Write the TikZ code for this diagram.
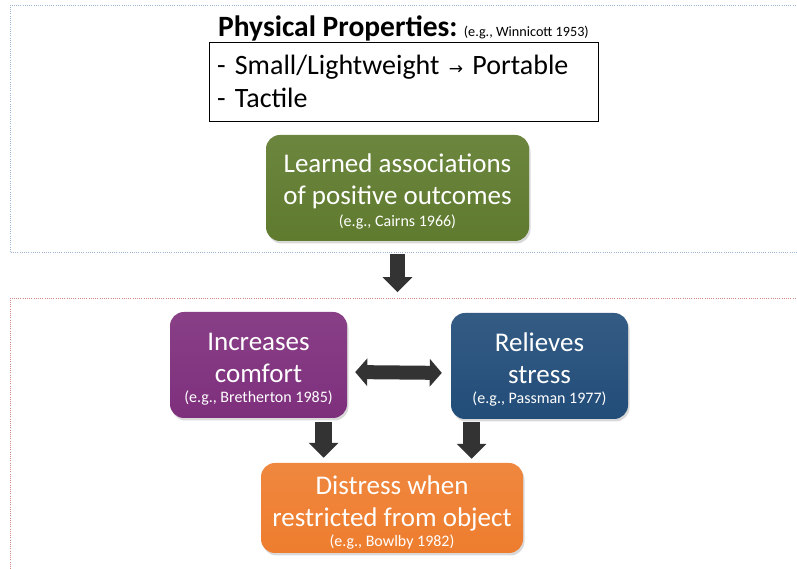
\documentclass[tikz,border=0pt]{standalone}
\usepackage{fontspec}
\setmainfont{Carlito}
\newfontfamily\symfont{DejaVu Sans}
\usetikzlibrary{arrows.meta,positioning,shadows}
\definecolor{ideagreen}{HTML}{5F7B2E}
\definecolor{ideapurple}{HTML}{7E2F7C}
\definecolor{ideablue}{HTML}{224D79}
\definecolor{ideaorange}{HTML}{EE7D2E}
\definecolor{arrowgray}{HTML}{333333}
\definecolor{panelblue}{HTML}{9FB6D6}
\definecolor{panelred}{HTML}{D58A8A}
\newcommand{\eg}[1]{{\fontsize{16}{18}\selectfont #1}}
% pushes the first line of a box down
\newcommand{\toppad}[1]{\rule{0pt}{#1}}

\begin{document}
\begin{tikzpicture}[
  x=1pt, y=1pt,
  idea/.style={rectangle, rounded corners=14pt, minimum height=106pt, inner ysep=2pt, align=center,
    text=white, font=\fontsize{27}{32}\selectfont,
    top color=#1!92!white, bottom color=#1,
    drop shadow={opacity=0.3, shadow xshift=1.5pt, shadow yshift=-2.5pt}},
  bigarrow/.style={draw=arrowgray, line width=#1, -{Triangle[width=29pt, length=15pt]}},
  bigarrow/.default=17pt,
  panel/.style={line width=0.7pt, dash pattern=on 1pt off 1.2pt}
]
  \useasboundingbox (0,0) rectangle (797,569);
  \clip (0,0) rectangle (797,569);

  % dotted panels
  \draw[panel, draw=panelblue] (10,317) rectangle (810,564);
  \draw[panel, draw=panelred] (10,-20) rectangle (810,271);

  % physical properties
  \node[anchor=base west, inner sep=0, font=\fontsize{29.5}{32}\selectfont\bfseries] (title) at (218,532) {Physical Properties:};
  \draw[line width=1.2pt] ([yshift=-0.3pt]title.south west) -- ([yshift=-0.3pt]title.south east);
  \node[anchor=base west, inner sep=0, font=\fontsize{14.2}{16}\selectfont] (titlecite) at ([xshift=6pt,yshift=0.5pt]title.base east) {(e.g., Winnicott 1953)};
  \node[draw=black, line width=0.8pt, minimum width=389pt, minimum height=79pt, text width=373pt,
    align=left, font=\fontsize{28}{33}\selectfont] (props) at (403.5,487.5)
    {- Small/Lightweight {\symfont\fontsize{17}{17}\selectfont→} Portable\\- Tactile};

  \node[idea=ideagreen, minimum width=263pt] (learned) at (397.5,381)
    {\toppad{26pt}Learned associations\\of positive outcomes\\[-10pt]\eg{(e.g., Cairns 1966)}};

  \node[idea=ideapurple, minimum width=177pt] (comfort) at (258.5,204)
    {\toppad{26pt}Increases\\comfort\\[-12pt]\eg{(e.g., Bretherton 1985)}};
  \node[idea=ideablue, minimum width=177pt] (stress) at (539.5,203)
    {\toppad{26pt}Relieves\\stress\\[-12pt]\eg{(e.g., Passman 1977)}};

  \node[idea=ideaorange, minimum width=262pt, minimum height=90pt] (distress) at (392,61)
    {\toppad{27pt}Distress when\\restricted from object\\[-12pt]\eg{(e.g., Bowlby 1982)}};

  % arrows
  \draw[bigarrow=15pt] ([yshift=-13pt]learned.south) -- ++(0,-38);
  \draw[draw=arrowgray, line width=14pt, {Triangle[width=27pt, length=12pt]}-{Triangle[width=27pt, length=12pt]},
    shorten <=8pt, shorten >=9pt] ([yshift=-7pt]comfort.east) -- ([yshift=-7pt]stress.west);
  \draw[bigarrow, shorten <=4pt, shorten >=5pt] ([xshift=65pt]comfort.south) -- ([xshift=65pt]comfort.south |- distress.north);
  \draw[bigarrow, shorten <=3pt, shorten >=4pt] ([xshift=-68pt]stress.south) -- ([xshift=-68pt]stress.south |- distress.north);
\end{tikzpicture}
\end{document}
